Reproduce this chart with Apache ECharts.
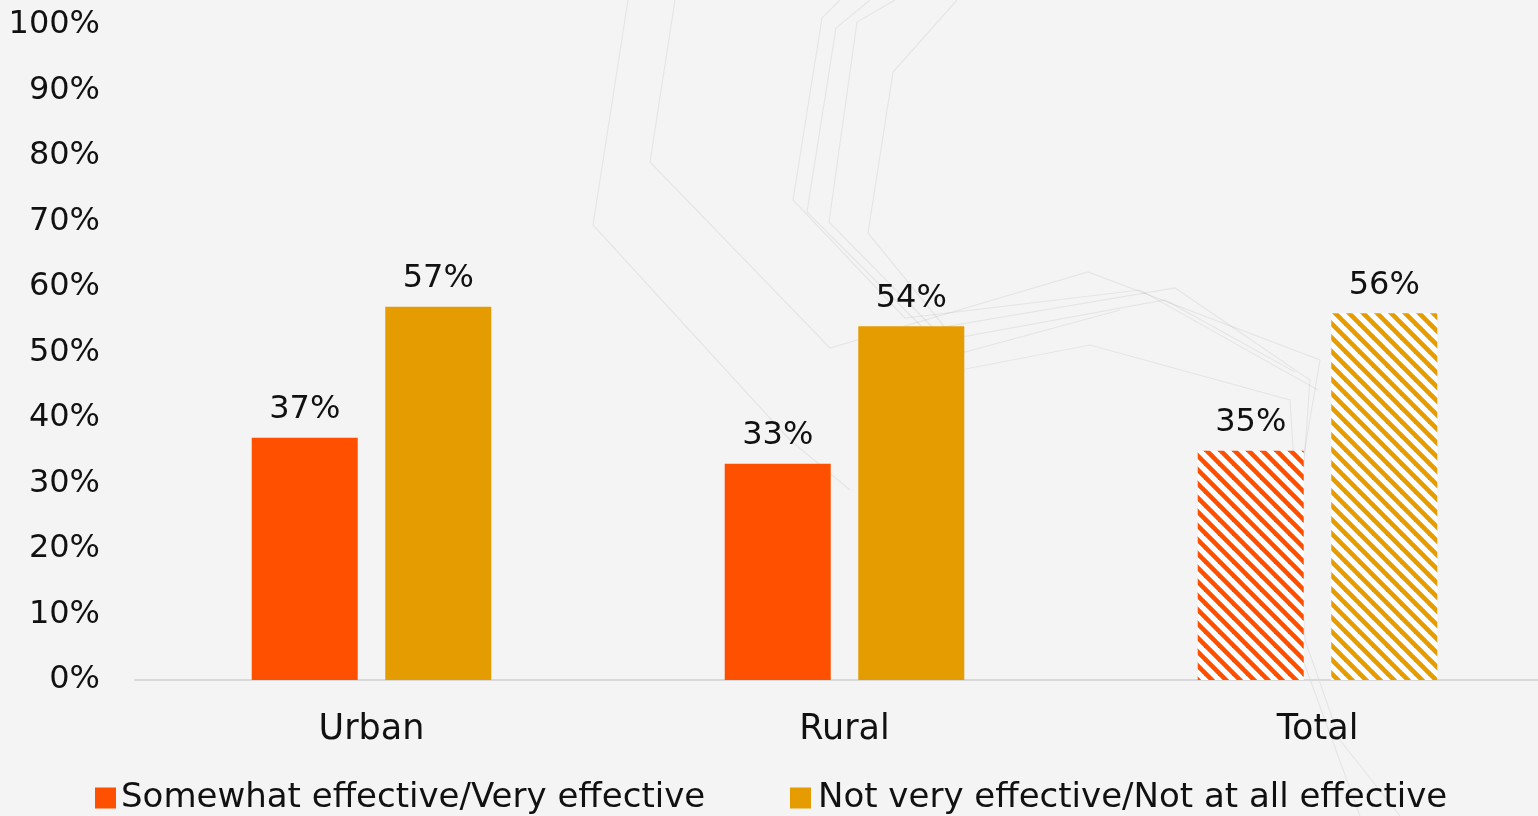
<!DOCTYPE html>
<html>
<head>
<meta charset="utf-8">
<script src="https://cdn.jsdelivr.net/npm/echarts@6/dist/echarts.min.js"></script>
<style>
  html, body { margin: 0; padding: 0; background: #f4f4f4; overflow: hidden; }
  /* the plot runs slightly past the right edge of the page */
  #chart { width: 1554px; height: 816px; }
</style>
</head>
<body>
<div id="chart"></div>
<script>
// Survey results by area
const categories = ['Urban', 'Rural', 'Total'];
const seriesNames = ['Somewhat effective/Very effective', 'Not very effective/Not at all effective'];
const effective = [37, 33, 35];
const notEffective = [57, 54, 56];
const yTicks = [0, 10, 20, 30, 40, 50, 60, 70, 80, 90, 100];

const RED = '#ff5000';
const GOLD = '#e59c00';
const FONT = 'DejaVu Sans';
const INK = '#111111';

// Diagonal hatch tile used for the "Total" bars
function hatch(color) {
  const s = 14;
  const c = document.createElement('canvas');
  c.width = s; c.height = s;
  const g = c.getContext('2d');
  g.fillStyle = '#ffffff';
  g.fillRect(0, 0, s, s);
  g.strokeStyle = color;
  g.lineWidth = 4.6;
  for (let k = -1; k <= 1; k++) {
    g.beginPath();
    g.moveTo(k * s - 2, -2);
    g.lineTo(k * s + s + 2, s + 2);
    g.stroke();
  }
  return { image: c, repeat: 'repeat' };
}

function build(values, color) {
  return values.map((v, i) => ({
    value: v,
    itemStyle: { color: categories[i] === 'Total' ? hatch(color) : color }
  }));
}

// Faint ornamental strokes in the backdrop
const ornaments = [
  [[628, 0], [593, 225], [790, 440], [850, 490]],
  [[675, 0], [650, 162], [830, 348], [1088, 272], [1320, 360], [1303, 460]],
  [[840, 0], [822, 18], [793, 200], [905, 318], [1140, 290], [1318, 390]],
  [[870, 0], [836, 28], [807, 212], [925, 330], [1175, 288], [1310, 380], [1300, 520]],
  [[895, 0], [857, 22], [829, 222], [945, 340], [1165, 300], [1295, 372]],
  [[957, 0], [893, 72], [868, 233], [965, 352], [1120, 310]],
  [[950, 372], [1090, 345], [1290, 400], [1305, 640], [1340, 740], [1400, 816]],
  [[1303, 660], [1360, 816]]
];

const graphics = ornaments.map(pts => ({
  type: 'polyline',
  silent: true,
  z: -10,
  shape: { points: pts },
  style: { stroke: 'rgba(0,0,0,0.06)', lineWidth: 1.2, fill: null }
}));

const labelStyle = { show: true, position: 'top', distance: 12, fontFamily: FONT, fontSize: 32, color: INK, formatter: '{c}%' };

const chart = echarts.init(document.getElementById('chart'), null, { renderer: 'canvas' });
chart.setOption({
  backgroundColor: '#f4f4f4',
  animation: false,
  textStyle: { fontFamily: FONT },
  graphic: graphics,
  grid: { left: 135, top: 25, right: 0, bottom: 136 },
  legend: [
    {
      left: 95, top: 781, padding: 0,
      itemWidth: 21, itemHeight: 21, icon: 'rect',
      textStyle: { fontFamily: FONT, fontSize: 34, lineHeight: 34, color: INK, padding: [0, 0, 0, 0] },
      data: [{ name: seriesNames[0], itemStyle: { color: RED } }]
    },
    {
      left: 790, top: 781, padding: 0,
      itemWidth: 21, itemHeight: 21, icon: 'rect',
      textStyle: { fontFamily: FONT, fontSize: 34, lineHeight: 34, color: INK, padding: [0, 0, 0, 2] },
      data: [{ name: seriesNames[1], itemStyle: { color: GOLD } }]
    }
  ],
  xAxis: {
    type: 'category',
    data: categories,
    axisLine: { lineStyle: { color: '#d9d9d9', width: 2 } },
    axisTick: { show: false },
    axisLabel: { fontFamily: FONT, fontSize: 35, color: INK, margin: 32 }
  },
  yAxis: {
    type: 'value',
    min: yTicks[0],
    max: yTicks[yTicks.length - 1],
    interval: 10,
    splitLine: { show: false },
    axisLine: { show: false },
    axisTick: { show: false },
    axisLabel: { fontFamily: FONT, fontSize: 32, color: INK, margin: 35, padding: [6, 0, 0, 0], formatter: '{value}%' }
  },
  series: [
    {
      name: seriesNames[0],
      type: 'bar',
      barWidth: 106,
      barGap: '26%',
      data: build(effective, RED),
      label: labelStyle
    },
    {
      name: seriesNames[1],
      type: 'bar',
      barWidth: 106,
      data: build(notEffective, GOLD),
      label: labelStyle
    }
  ]
});
</script>
</body>
</html>
